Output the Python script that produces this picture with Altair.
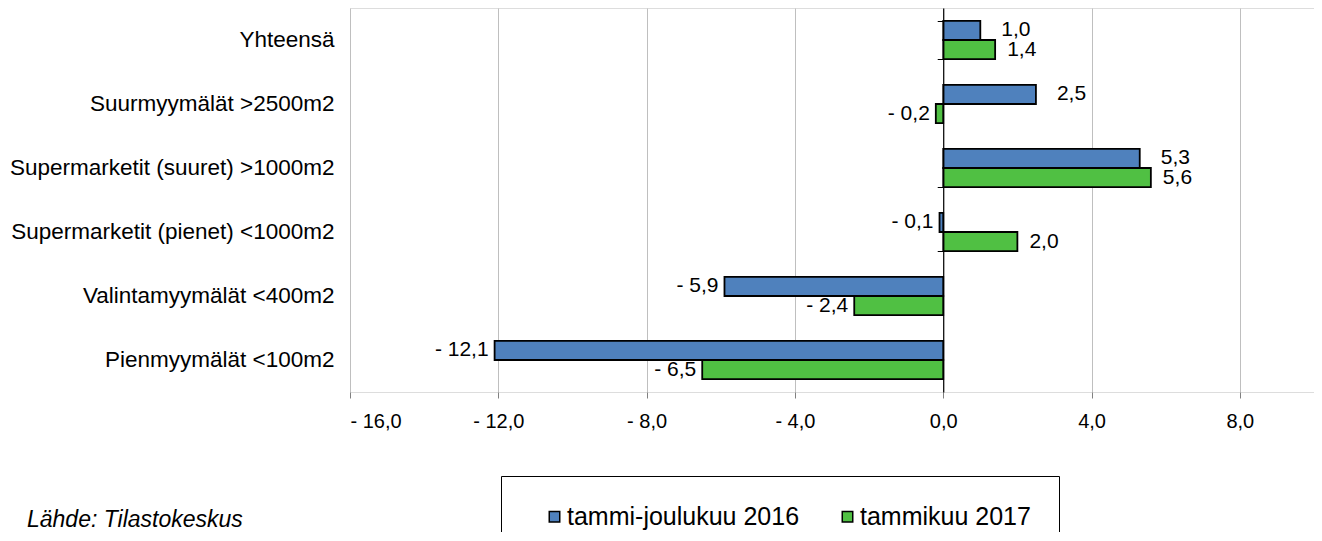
import altair as alt
import pandas as pd

categories = [
    "Yhteensä",
    "Suurmyymälät >2500m2",
    "Supermarketit (suuret) >1000m2",
    "Supermarketit (pienet) <1000m2",
    "Valintamyymälät <400m2",
    "Pienmyymälät  <100m2",
]
series = ["tammi-joulukuu 2016", "tammikuu 2017"]
values_2016 = [1.0, 2.5, 5.3, -0.1, -5.9, -12.1]
values_2017 = [1.4, -0.2, 5.6, 2.0, -2.4, -6.5]
x_ticks = [-16, -12, -8, -4, 0, 4, 8]
colors = ["#4F81BD", "#50C043"]
source_text = "Lähde: Tilastokeskus"

rows = []
for c, a, b in zip(categories, values_2016, values_2017):
    rows.append({"cat": c, "series": series[0], "value": a})
    rows.append({"cat": c, "series": series[1], "value": b})
df = pd.DataFrame(rows)

FONT = "Liberation Sans"
fmt = ("datum.value < 0 ? '- ' + replace(format(-datum.value, '.1f'), '.', ',') "
       ": replace(format(datum.value, '.1f'), '.', ',')")

base = alt.Chart(df).transform_calculate(label=fmt)

W = 964
y_scale = alt.Scale(domain=categories, paddingInner=0.4, paddingOuter=0.2)
yoff = alt.YOffset("series:N", sort=series, scale=alt.Scale(domain=series, paddingInner=0, paddingOuter=0))
x_scale = alt.Scale(domain=[-16, 10], nice=False, zero=False)
x_axis = alt.Axis(title=None, values=x_ticks, labelExpr=fmt, labelFontSize=20,
                  labelFont=FONT, labelColor="black", grid=True, gridColor="#BFBFBF",
                  gridWidth=1, tickColor="#808080", tickSize=6, tickWidth=1,
                  domain=False, labelPadding=13)
x_enc = alt.X("value:Q", scale=x_scale, axis=x_axis)

bars = base.mark_bar(stroke="black", strokeWidth=1.8).encode(
    y=alt.Y("cat:N", sort=categories, scale=y_scale,
            axis=alt.Axis(title=None, orient="left", labelFontSize=22.5, labelFont=FONT,
                          labelColor="black", labelPadding=16, ticks=False, domain=False,
                          grid=False, labelLimit=500)),
    yOffset=yoff,
    x=x_enc,
    color=alt.Color("series:N", sort=series, scale=alt.Scale(domain=series, range=colors),
                    legend=alt.Legend(title=None, orient="none", legendX=151, legendY=468,
                                      direction="horizontal", strokeColor="black",
                                      fillColor="white", padding=28, symbolOffset=13,
                                      symbolType="square", symbolSize=110,
                                      symbolStrokeColor="black", symbolStrokeWidth=1.5,
                                      labelFontSize=25, labelFont=FONT, labelColor="black",
                                      labelOffset=0, columnPadding=22, labelLimit=500)),
)

zero_axis = base.mark_tick(opacity=0).encode(
    y=alt.Y("cat:N", sort=categories, scale=y_scale,
            axis=alt.Axis(title=None, orient="left", offset=-(W * 16 / 26), labels=False,
                          ticks=True, tickBand="extent", tickSize=6, tickColor="black",
                          tickWidth=1, domain=True, domainColor="black", domainWidth=1.2,
                          grid=False, zindex=1)),
    x=x_enc,
)

def label_layer(filt, align, dx):
    return base.transform_filter(filt).mark_text(
        align=align, baseline="middle", dx=dx, fontSize=21, font=FONT, color="black"
    ).encode(
        y=alt.Y("cat:N", sort=categories, scale=y_scale, axis=None),
        yOffset=yoff,
        x=x_enc,
        text="label:N",
    )

lab_pos_a = label_layer(f"datum.value >= 0 && datum.series == '{series[0]}'", "left", 21)
lab_pos_b = label_layer(f"datum.value >= 0 && datum.series == '{series[1]}'", "left", 12)
lab_neg = label_layer("datum.value < 0", "right", -6)

source = alt.Chart(pd.DataFrame({"t": [source_text]})).mark_text(
    align="left", baseline="middle", fontSize=23, font=FONT, fontStyle="italic", color="black"
).encode(x=alt.value(-323), y=alt.value(512), text="t:N")

chart = alt.layer(bars, zero_axis, lab_pos_a, lab_pos_b, lab_neg, source).resolve_axis(
    y="independent"
).properties(
    width=W, height=384,
    autosize=alt.AutoSizeParams(type="none"),
    padding={"left": 342, "top": 0, "right": 0, "bottom": 140},
).configure_view(stroke="#7F7F7F", strokeWidth=2).configure(font=FONT)

chart.save("out.html", embed_options={"renderer": "svg", "actions": False})
